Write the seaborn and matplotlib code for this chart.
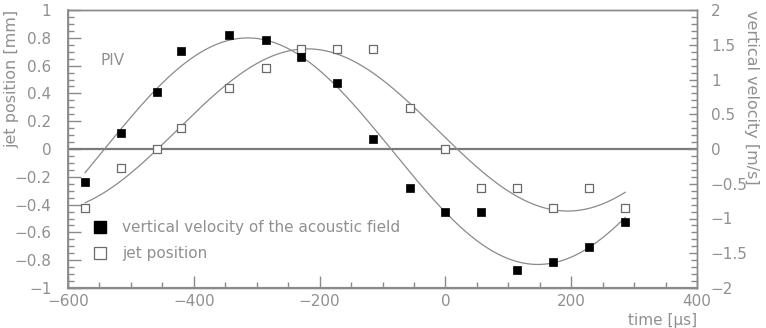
import numpy as np
import pandas as pd
import matplotlib
matplotlib.use("Agg")
import matplotlib.pyplot as plt
import seaborn as sns
from matplotlib.lines import Line2D
from matplotlib.ticker import MultipleLocator

# ---- data ----
time_us = [-573, -515, -459, -421, -344, -286, -229, -173, -115, -57, 0, 57, 114, 171, 229, 286]
velocity_ms = [-0.47, 0.23, 0.82, 1.41, 1.64, 1.57, 1.32, 0.95, 0.14, -0.56,
               -0.90, -0.90, -1.74, -1.62, -1.41, -1.05]
jet_pos_mm = [-0.424, -0.137, 0.0, 0.149, 0.437, 0.58, 0.72, 0.72, 0.72, 0.293,
              0.0, -0.283, -0.283, -0.427, -0.283, -0.427]

x_ticks = [-600, -400, -200, 0, 200, 400]
left_ticks = [-1, -0.8, -0.6, -0.4, -0.2, 0, 0.2, 0.4, 0.6, 0.8, 1]
right_ticks = [-2, -1.5, -1, -0.5, 0, 0.5, 1, 1.5, 2]

label_vel = "vertical velocity of the acoustic field"
label_jet = "jet position"

df = pd.DataFrame({"time": time_us, "vel": velocity_ms, "jet": jet_pos_mm})


def fit_sine(t, y):
    """Least-squares sinusoid fit (frequency by grid search)."""
    t = np.asarray(t, float)
    y = np.asarray(y, float)
    best = None
    for w in np.linspace(0.002, 0.015, 2000):
        A = np.column_stack([np.sin(w * t), np.cos(w * t), np.ones_like(t)])
        coef, *_ = np.linalg.lstsq(A, y, rcond=None)
        r = np.sum((A @ coef - y) ** 2)
        if best is None or r < best[0]:
            best = (r, w, coef)
    _, w, c = best
    tt = np.linspace(t.min(), t.max(), 400)
    return tt, c[0] * np.sin(w * tt) + c[1] * np.cos(w * tt) + c[2]


sns.set_theme(style="white")
plt.rcParams["font.family"] = ["DejaVu Sans"]
txt_col = "#909090"
ax_col = "#8a8a8a"
line_col = "#8a8a8a"
FS = 11

fig = plt.figure(figsize=(7.66, 3.28), dpi=100)
ax = fig.add_axes([68 / 766, 1 - 288 / 328, 629 / 766, 278 / 328])
ax2 = ax.twinx()

# zero line
ax.axhline(0, color="#7a7a7a", lw=1.6, zorder=1)

# fitted curves
tj, yj = fit_sine(df["time"], df["jet"])
tv, yv = fit_sine(df["time"], df["vel"])
sns.lineplot(x=tj, y=yj, ax=ax, color=line_col, lw=0.9, zorder=2)
sns.lineplot(x=tv, y=yv, ax=ax2, color=line_col, lw=0.9, zorder=2)

# markers
sns.scatterplot(data=df, x="time", y="jet", ax=ax, marker="s", s=32,
                color="white", edgecolor="#6a6a6a", linewidth=0.9, zorder=3)
sns.scatterplot(data=df, x="time", y="vel", ax=ax2, marker="s", s=40,
                color="black", edgecolor="black", linewidth=0.5, zorder=3)

ax.set_xlim(-600, 400)
ax.set_ylim(-1, 1)
ax2.set_ylim(-2, 2)

ax.set_xticks(x_ticks)
ax.set_yticks(left_ticks)
ax2.set_yticks(right_ticks)
ax.set_xticklabels([f"{v:g}".replace("-", "\u2212") for v in x_ticks])
ax.set_yticklabels([f"{v:g}".replace("-", "\u2212") for v in left_ticks])
ax2.set_yticklabels([f"{v:g}".replace("-", "\u2212") for v in right_ticks])
ax.xaxis.set_minor_locator(MultipleLocator(50))
ax.yaxis.set_minor_locator(MultipleLocator(0.05))
ax2.yaxis.set_minor_locator(MultipleLocator(0.1))

ax.tick_params(axis="x", which="major", direction="in", length=9, width=1,
               color=ax_col, labelsize=FS, labelcolor=txt_col, pad=4, bottom=True)
ax.tick_params(axis="x", which="minor", direction="in", length=4.5, width=1,
               color=ax_col, bottom=True)
ax.tick_params(axis="y", which="major", direction="in", length=9, width=1,
               color=ax_col, labelsize=FS, labelcolor=txt_col, pad=12, left=True)
ax.tick_params(axis="y", which="minor", direction="in", length=4.5, width=1,
               color=ax_col, left=True)
ax2.tick_params(axis="y", which="major", direction="in", length=6, width=1,
                color=ax_col, labelsize=FS, labelcolor=txt_col, pad=10, right=True)
ax2.tick_params(axis="y", which="minor", direction="in", length=4, width=1,
                color=ax_col, right=True)

for a in (ax, ax2):
    a.set_xlabel("")
    a.set_ylabel("")
    for s in a.spines.values():
        s.set_color(ax_col)
        s.set_linewidth(1.0)
ax.spines["bottom"].set_linewidth(1.6)
ax.spines["left"].set_linewidth(1.3)

# annotation
ax.text(-548, 0.64, "PIV", fontsize=FS, color=txt_col, va="center", ha="left")

# legend
handles = [
    Line2D([], [], ls="none", marker="s", markersize=8.5, markerfacecolor="black",
           markeredgecolor="black", label=label_vel),
    Line2D([], [], ls="none", marker="s", markersize=8.5, markerfacecolor="white",
           markeredgecolor="#6a6a6a", markeredgewidth=0.9, label=label_jet),
]
leg = ax2.legend(handles=handles, loc="upper left", bbox_to_anchor=(0.0388, 0.244),
                 frameon=False, fontsize=FS, handlelength=1.0, handletextpad=0.93,
                 labelspacing=0.72, borderpad=0, borderaxespad=0)
for t in leg.get_texts():
    t.set_color(txt_col)

# axis labels
fig.text(12 / 766, 1 - 10 / 328, "jet position [mm]", rotation=90, ha="center",
         va="top", fontsize=11.5, color=txt_col)
fig.text(752 / 766, 1 - 10 / 328, "vertical velocity [m/s]", rotation=-90, ha="center",
         va="top", fontsize=11.5, color=txt_col)
fig.text(697 / 766, 1 - 327.5 / 328, "time [\u00b5s]", ha="right", va="bottom",
         fontsize=FS, color=txt_col)

fig.savefig("out.png", dpi=100, facecolor="white")
